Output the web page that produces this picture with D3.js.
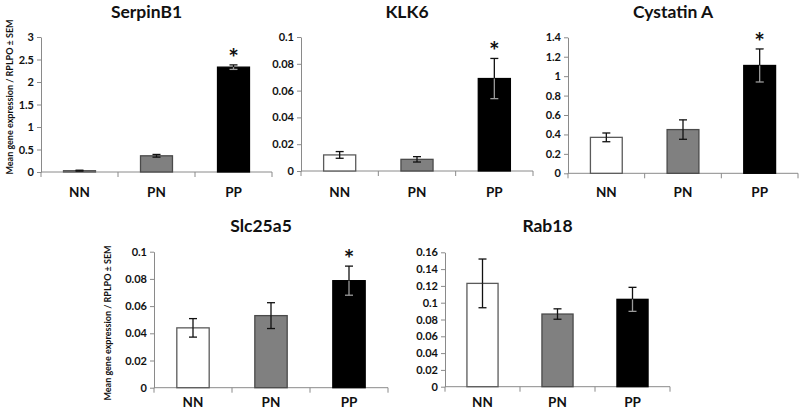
<!DOCTYPE html>
<html>
<head>
<meta charset="utf-8">
<script src="https://cdn.jsdelivr.net/npm/d3@7"></script>
<style>
  html, body { margin: 0; padding: 0; background: #fff; }
  svg { display: block; }
  text { font-family: Lato, "Open Sans", sans-serif; font-weight: bold; fill: #111; }
</style>
</head>
<body>
<svg id="chart" width="800" height="411"></svg>
<script>
// ---------- data ----------
const categories = ["NN", "PN", "PP"];
const geneNames = ["SerpinB1", "KLK6", "Cystatin A", "Slc25a5", "Rab18"];

const serpinB1Mean = [0.03, 0.36, 2.33];
const serpinB1Sem  = [0.01, 0.03, 0.05];
const klk6Mean     = [0.012, 0.0087, 0.069];
const klk6Sem      = [0.0025, 0.002, 0.015];
const cystatinMean = [0.37, 0.45, 1.11];
const cystatinSem  = [0.045, 0.10, 0.17];
const slc25a5Mean  = [0.044, 0.053, 0.0787];
const slc25a5Sem   = [0.0068, 0.0095, 0.0107];
const rab18Mean    = [0.123, 0.0865, 0.104];
const rab18Sem     = [0.029, 0.0062, 0.0143];

const significant = [
  [false, false, true],
  [false, false, true],
  [false, false, true],
  [false, false, true],
  [false, false, false]
];

const serpinB1Ticks = [0, 0.5, 1, 1.5, 2, 2.5, 3];
const serpinB1TickLabels = ["0", "0.5", "1", "1.5", "2", "2.5", "3"];
const klk6Ticks = [0, 0.02, 0.04, 0.06, 0.08, 0.1];
const klk6TickLabels = ["0", "0.02", "0.04", "0.06", "0.08", "0.1"];
const cystatinTicks = [0, 0.2, 0.4, 0.6, 0.8, 1, 1.2, 1.4];
const cystatinTickLabels = ["0", "0.2", "0.4", "0.6", "0.8", "1", "1.2", "1.4"];
const slc25a5Ticks = [0, 0.02, 0.04, 0.06, 0.08, 0.1];
const slc25a5TickLabels = ["0", "0.02", "0.04", "0.06", "0.08", "0.1"];
const rab18Ticks = [0, 0.02, 0.04, 0.06, 0.08, 0.1, 0.12, 0.14, 0.16];
const rab18TickLabels = ["0", "0.02", "0.04", "0.06", "0.08", "0.1", "0.12", "0.14", "0.16"];

const yAxisTitle = "Mean gene expression / RPLPO \u00b1 SEM";

const means = [serpinB1Mean, klk6Mean, cystatinMean, slc25a5Mean, rab18Mean];
const sems = [serpinB1Sem, klk6Sem, cystatinSem, slc25a5Sem, rab18Sem];
const ticks = [serpinB1Ticks, klk6Ticks, cystatinTicks, slc25a5Ticks, rab18Ticks];
const tickLabels = [serpinB1TickLabels, klk6TickLabels, cystatinTickLabels, slc25a5TickLabels, rab18TickLabels];

// ---------- layout ----------
const layout = [
  { x0: 41,  x1: 272, yTop: 37,    yBot: 172,   titleY: 17.5, catY: 197, yLabel: { x: 9,   y: 97 } },
  { x0: 301, x1: 533, yTop: 37,    yBot: 171,   titleY: 17.5, catY: 197, yLabel: null },
  { x0: 568, x1: 798, yTop: 37.3,  yBot: 173.3, titleY: 17.5, catY: 197, yLabel: null },
  { x0: 154, x1: 388, yTop: 251.7, yBot: 387.7, titleY: 232,  catY: 407, yLabel: { x: 107, y: 323 } },
  { x0: 445, x1: 670, yTop: 252.3, yBot: 386.7, titleY: 232,  catY: 407, yLabel: null }
];
const fills = ["#ffffff", "#808080", "#000000"];
const strokes = ["#5a5a5a", "#4a4a4a", "#000000"];

const svg = d3.select("#chart");

geneNames.forEach((gene, gi) => {
  const L = layout[gi];
  const g = svg.append("g");
  const tv = ticks[gi];
  const y = d3.scaleLinear().domain([0, tv[tv.length - 1]]).range([L.yBot, L.yTop]);
  const x = d3.scaleBand().domain(categories).range([L.x0, L.x1]).paddingInner(0).paddingOuter(0);
  const barW = x.bandwidth() * 0.415;

  // y axis
  const yAxis = d3.axisLeft(y)
    .tickValues(tv)
    .tickFormat((d, i) => tickLabels[gi][i])
    .tickSize(4)
    .tickSizeOuter(0)
    .tickPadding(3);
  const ya = g.append("g").attr("transform", `translate(${L.x0},0)`).call(yAxis);
  ya.select(".domain").attr("stroke", "#8a8a8a").attr("stroke-width", 1);
  ya.selectAll(".tick line").attr("stroke", "#8a8a8a");
  ya.selectAll(".tick text").attr("font-size", 11).attr("font-family", "Lato, sans-serif").attr("font-weight", "bold").attr("fill", "#111");

  // x axis baseline with boundary ticks
  g.append("line")
    .attr("x1", L.x0).attr("x2", L.x1)
    .attr("y1", y(0)).attr("y2", y(0))
    .attr("stroke", "#8a8a8a").attr("stroke-width", 1);
  const bounds = categories.map(c => x(c)).concat([x(categories[categories.length - 1]) + x.bandwidth()]);
  g.selectAll(".xtick").data(bounds).enter().append("line")
    .attr("x1", d => d).attr("x2", d => d)
    .attr("y1", y(0)).attr("y2", y(0) + 5)
    .attr("stroke", "#8a8a8a").attr("stroke-width", 1);

  // category labels
  g.selectAll(".cat").data(categories).enter().append("text")
    .attr("x", d => x(d) + x.bandwidth() / 2)
    .attr("y", L.catY)
    .attr("text-anchor", "middle")
    .attr("font-size", 13.5)
    .text(d => d);

  // bars
  const rows = categories.map((c, i) => ({ c, i, v: means[gi][i], e: sems[gi][i] }));
  g.selectAll(".bar").data(rows).enter().append("rect")
    .attr("x", d => x(d.c) + x.bandwidth() / 2 - barW / 2)
    .attr("y", d => y(d.v))
    .attr("width", barW)
    .attr("height", d => y(0) - y(d.v))
    .attr("fill", d => fills[d.i])
    .attr("stroke", d => strokes[d.i])
    .attr("stroke-width", 1.3);

  // error bars
  const capW = 4;
  rows.forEach(d => {
    const cx = x(d.c) + x.bandwidth() / 2;
    const innerColor = d.i === 2 ? "#9a9a9a" : "#111";
    g.append("line").attr("x1", cx).attr("x2", cx)
      .attr("y1", y(d.v + d.e)).attr("y2", y(d.v))
      .attr("stroke", "#111").attr("stroke-width", 1.3);
    g.append("line").attr("x1", cx - capW).attr("x2", cx + capW)
      .attr("y1", y(d.v + d.e)).attr("y2", y(d.v + d.e))
      .attr("stroke", "#111").attr("stroke-width", 1.3);
    const lo = Math.max(0, d.v - d.e);
    g.append("line").attr("x1", cx).attr("x2", cx)
      .attr("y1", y(d.v)).attr("y2", y(lo))
      .attr("stroke", innerColor).attr("stroke-width", 1.3);
    g.append("line").attr("x1", cx - capW).attr("x2", cx + capW)
      .attr("y1", y(lo)).attr("y2", y(lo))
      .attr("stroke", innerColor).attr("stroke-width", 1.3);
    if (significant[gi][d.i]) {
      g.append("text")
        .attr("x", cx)
        .attr("y", y(d.v + d.e) + 2)
        .attr("text-anchor", "middle")
        .attr("font-size", 25)
        .text("*");
    }
  });

  // title
  g.append("text")
    .attr("x", (L.x0 + L.x1) / 2 - 10)
    .attr("y", L.titleY)
    .attr("text-anchor", "middle")
    .attr("font-size", 17.5)
    .text(gene);

  // y axis title
  if (L.yLabel) {
    g.append("text")
      .attr("transform", `translate(${L.yLabel.x},${L.yLabel.y}) rotate(-90)`)
      .attr("text-anchor", "middle")
      .attr("dominant-baseline", "central")
      .attr("font-size", 9)
      .text(yAxisTitle);
  }
});
</script>
</body>
</html>
